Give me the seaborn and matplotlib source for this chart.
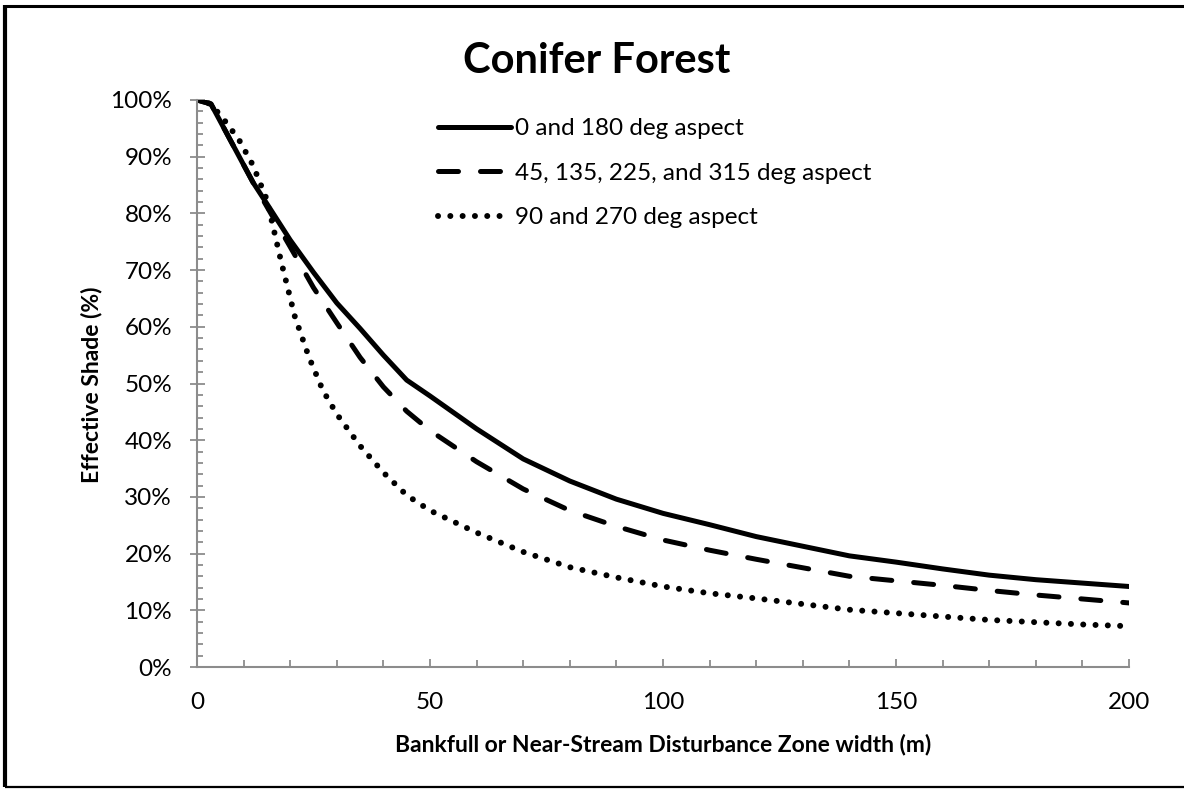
import numpy as np
import pandas as pd
import matplotlib
matplotlib.use("Agg")
import matplotlib.pyplot as plt
from matplotlib.lines import Line2D
from matplotlib.ticker import MultipleLocator, FuncFormatter
import seaborn as sns

# ---------------- data ----------------
title = "Conifer Forest"
x_label = "Bankfull or Near-Stream Disturbance Zone width (m)"
y_label = "Effective Shade (%)"
series_names = ["0 and 180 deg aspect",
                "45, 135, 225, and 315 deg aspect",
                "90 and 270 deg aspect"]

width_solid = [0, 3, 12, 15, 20, 25, 30, 35, 40, 45, 50, 60, 70, 80, 90,
               100, 110, 120, 130, 140, 150, 160, 170, 180, 190, 200]
shade_solid = [100, 99.3, 85.5, 81.7, 75.3, 69.6, 64.2, 59.7, 55.0, 50.6,
               47.8, 42.0, 36.7, 32.8, 29.6, 27.1, 25.1, 23.0, 21.3, 19.6,
               18.5, 17.3, 16.2, 15.4, 14.8, 14.2]

width_dash = [0, 3, 12, 15, 20, 25, 30, 35, 40, 45, 50, 60, 70, 80, 90,
              100, 110, 120, 130, 140, 150, 160, 170, 180, 190, 200]
shade_dash = [100, 99.3, 85.5, 81.2, 74.1, 66.9, 60.7, 54.6, 49.4, 45.1,
              41.7, 36.2, 31.4, 27.6, 24.8, 22.4, 20.6, 19.0, 17.5, 16.0,
              15.2, 14.4, 13.5, 12.7, 12.0, 11.3]

width_dot = [0, 3, 6, 9, 12, 15, 18, 21, 24, 27, 30, 35, 40, 45, 50, 60, 70,
             80, 90, 100, 110, 120, 130, 140, 150, 160, 170, 180, 190, 200]
shade_dot = [100, 99.3, 96.3, 93.0, 88.5, 82.4, 71.7, 61.8, 54.7, 48.8, 44.6,
             39.0, 34.3, 30.3, 27.6, 23.7, 20.3, 17.6, 15.8, 14.2, 13.0, 12.1,
             11.1, 10.1, 9.5, 8.9, 8.3, 7.9, 7.5, 7.2]

# ---------------- style ----------------
sns.set_theme(style="white")
plt.rcParams['font.family'] = ['Lato', 'DejaVu Sans']
plt.rcParams['text.color'] = 'black'
plt.rcParams['axes.labelcolor'] = 'black'

W, H = 1184, 789
fig = plt.figure(figsize=(W / 100, H / 100), dpi=100)
fig.patch.set_facecolor('white')
ax = fig.add_axes([197 / W, 1 - 667 / H, (1129 - 197) / W, (667 - 100) / H])
ax.set_facecolor('white')

lw = 3.6
sns.lineplot(x=width_solid, y=shade_solid, ax=ax, color='black', linewidth=lw,
             label=series_names[0], sort=False, solid_capstyle='round')
sns.lineplot(x=width_dash, y=shade_dash, ax=ax, color='black', linewidth=lw,
             label=series_names[1], sort=False, linestyle=(0, (4.0, 4.4)),
             dash_capstyle='round')
sns.lineplot(x=width_dot, y=shade_dot, ax=ax, color='black', linewidth=4.3,
             label=series_names[2], sort=False, linestyle=(0, (0.01, 2.05)),
             dash_capstyle='round')

ax.set_xlim(0, 200)
ax.set_ylim(0, 100)
ax.xaxis.set_major_locator(MultipleLocator(50))
ax.xaxis.set_minor_locator(MultipleLocator(10))
ax.yaxis.set_major_locator(MultipleLocator(10))
ax.yaxis.set_minor_locator(MultipleLocator(2))
ax.yaxis.set_major_formatter(FuncFormatter(lambda v, p: f"{v:.0f}%"))

gray = '#8c8c8c'
for s in ['top', 'right']:
    ax.spines[s].set_visible(False)
for s in ['left', 'bottom']:
    ax.spines[s].set_color(gray)
    ax.spines[s].set_linewidth(1.5)

tick_fs = 17.5
ax.tick_params(which='both', bottom=True, left=True, top=False, right=False)
ax.tick_params(axis='x', which='major', direction='in', length=5.8, width=1.3,
               color=gray, pad=18, labelsize=tick_fs, labelcolor='black')
ax.tick_params(axis='x', which='minor', direction='in', length=5.0, width=1.3,
               color=gray)
ax.tick_params(axis='y', which='major', direction='inout', length=10.8, width=1.3,
               color=gray, pad=12.5, labelsize=tick_fs, labelcolor='black')
ax.tick_params(axis='y', which='minor', direction='in', length=4.3, width=1.3,
               color=gray)
ax.set_xlabel("")
ax.set_ylabel("")

# titles and axis labels
fig.text(597 / W, 1 - 73 / H, title, ha='center', va='baseline',
         fontsize=30, fontweight='bold')
fig.text(663 / W, 1 - 751 / H, x_label, ha='center', va='baseline',
         fontsize=16.5, fontweight='bold')
fig.text(91 / W, 1 - 385 / H, y_label, ha='center', va='center',
         rotation=90, fontsize=16.5, fontweight='bold')

# legend
leg = ax.legend(loc='upper left', bbox_to_anchor=(438 / W, 1 - 118 / H),
                bbox_transform=fig.transFigure, frameon=False,
                fontsize=tick_fs, handlelength=3.0, handletextpad=0.15,
                labelspacing=0.97, borderpad=0, borderaxespad=0)
for t in leg.get_texts():
    t.set_color('black')

# figure border
for (xs, ys, w) in [((5 / W, 5 / W), (2 / H, 1 - 5 / H), 3.0),
                    ((5 / W, 1.01), (1 - 6 / H, 1 - 6 / H), 2.2),
                    ((5 / W, 1.01), (2 / H, 2 / H), 1.6)]:
    fig.add_artist(Line2D(xs, ys, transform=fig.transFigure, color='black',
                          linewidth=w, solid_capstyle='butt'))

fig.savefig("out.png", dpi=100, facecolor='white')
